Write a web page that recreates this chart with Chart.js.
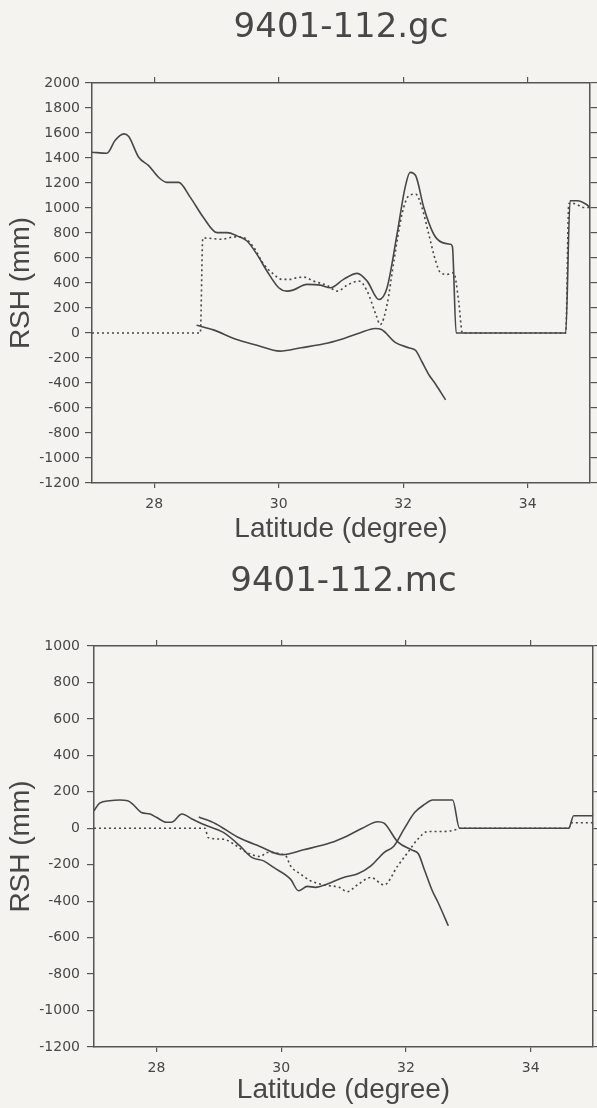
<!DOCTYPE html>
<html>
<head>
<meta charset="utf-8">
<script src="https://cdn.jsdelivr.net/npm/chart.js@4.4.1/dist/chart.umd.min.js"></script>
<style>
html, body { margin: 0; padding: 0; background: #f4f3ef; }
#wrap { position: relative; width: 597px; height: 1108px; overflow: hidden; }
.box { position: absolute; left: 0; width: 597px; }
#b1 { top: 0; height: 546px; }
#b2 { top: 546px; height: 562px; }
</style>
</head>
<body>
<div id="wrap">
  <div class="box" id="b1"><canvas id="c1" width="597" height="546"></canvas></div>
  <div class="box" id="b2"><canvas id="c2" width="597" height="562"></canvas></div>
</div>
<script>
// ---- tick labels ----
const latTicks = [28, 30, 32, 34];
const gcRshTicks = [-1200, -1000, -800, -600, -400, -200, 0, 200, 400, 600, 800, 1000, 1200, 1400, 1600, 1800, 2000];
const mcRshTicks = [-1200, -1000, -800, -600, -400, -200, 0, 200, 400, 600, 800, 1000];

// ---- 9401-112.gc : solid curve ----
const gcSolidLat = [27.0, 27.24, 27.37, 27.51, 27.59, 27.75, 27.91, 28.07, 28.2, 28.39, 28.58, 28.79, 29.01, 29.17, 29.33, 29.49, 29.65, 29.81, 30.0, 30.13, 30.24, 30.45, 30.67, 30.83, 31.04, 31.26, 31.42, 31.61, 31.74, 31.9, 32.03, 32.11, 32.2, 32.33, 32.49, 32.63, 32.76, 32.79, 32.85, 34.61, 34.68, 34.8, 34.95, 35.0];
const gcSolidRsh = [1446, 1438, 1540, 1593, 1572, 1406, 1339, 1245, 1205, 1205, 1085, 924, 803, 803, 777, 736, 629, 496, 362, 335, 345, 389, 383, 362, 429, 477, 415, 268, 362, 790, 1165, 1285, 1258, 1004, 790, 723, 710, 690, 0, 0, 1058, 1058, 1026, 1004];

// ---- 9401-112.gc : dotted curve ----
const gcDottedLat = [27.0, 28.74, 28.78, 28.87, 29.09, 29.28, 29.44, 29.6, 29.76, 29.92, 30.05, 30.19, 30.24, 30.4, 30.56, 30.78, 30.94, 31.1, 31.29, 31.42, 31.56, 31.63, 31.74, 31.85, 31.98, 32.09, 32.2, 32.3, 32.41, 32.52, 32.6, 32.71, 32.81, 32.89, 32.95, 34.61, 34.66, 34.74, 34.9, 35.0];
const gcDottedRsh = [0, 0, 760, 758, 750, 769, 763, 683, 549, 469, 429, 429, 437, 447, 415, 380, 335, 383, 415, 335, 148, 67, 228, 576, 951, 1098, 1111, 1004, 790, 576, 482, 469, 482, 255, 0, 0, 1036, 1036, 1004, 1004];

// ---- difference curve (shown in both panels) ----
const diffLat = [28.68, 28.95, 29.3, 29.65, 30.02, 30.36, 30.79, 31.06, 31.3, 31.55, 31.65, 31.87, 32.1, 32.2, 32.3, 32.42, 32.52, 32.68];
const diffRsh = [62, 25, -48, -98, -145, -118, -80, -42, 0, 36, 28, -75, -120, -140, -230, -340, -410, -535];

// ---- 9401-112.mc : solid curve ----
const mcSolidLat = [27.0, 27.09, 27.25, 27.41, 27.54, 27.62, 27.76, 27.9, 28.0, 28.16, 28.24, 28.41, 28.57, 28.75, 29.08, 29.34, 29.53, 29.72, 29.88, 30.15, 30.28, 30.42, 30.55, 30.74, 31.0, 31.22, 31.44, 31.65, 31.81, 31.97, 32.14, 32.3, 32.43, 32.75, 32.86, 34.61, 34.69, 35.0];
const mcSolidRsh = [96, 138, 151, 155, 151, 133, 87, 78, 60, 33, 33, 78, 51, 22, -24, -97, -160, -179, -215, -279, -343, -319, -324, -306, -270, -251, -206, -133, -97, -5, 86, 131, 155, 155, 0, 0, 69, 69];

// ---- 9401-112.mc : dotted curve ----
const mcDottedLat = [27.0, 28.78, 28.83, 29.08, 29.24, 29.45, 29.67, 29.77, 30.07, 30.15, 30.31, 30.47, 30.69, 30.93, 31.06, 31.22, 31.44, 31.65, 31.87, 32.03, 32.19, 32.35, 32.57, 32.83, 32.86, 34.61, 34.66, 35.0];
const mcDottedRsh = [0, 0, -51, -60, -87, -133, -155, -133, -150, -206, -251, -288, -311, -324, -348, -311, -270, -311, -206, -133, -60, -18, -18, -5, 0, 0, 30, 30];

const ink = '#474747';
const axisColor = '#555555';

function pts(lats, vals) { return lats.map((v, i) => ({ x: v, y: vals[i] })); }
function solid(lats, vals) {
  return { data: pts(lats, vals), borderColor: ink, borderWidth: 1.6, pointRadius: 0, fill: false, cubicInterpolationMode: 'monotone' };
}
function dotted(lats, vals) {
  return { data: pts(lats, vals), borderColor: ink, borderWidth: 1.6, borderDash: [2, 3], pointRadius: 0, fill: false, cubicInterpolationMode: 'monotone' };
}
function setTicks(arr) { return s => { s.ticks = arr.map(v => ({ value: v })); }; }
const plain = v => String(v);

function buildChart(id, cfg) {
  const border = { display: true, color: axisColor, width: 1.5 };
  return new Chart(document.getElementById(id), {
    type: 'line',
    data: { datasets: cfg.datasets },
    options: {
      responsive: false,
      animation: false,
      events: [],
      layout: { padding: 0 },
      plugins: {
        legend: { display: false },
        tooltip: { enabled: false },
        title: {
          display: true, text: cfg.title, fullSize: false, color: ink,
          font: { family: 'DejaVu Sans', size: 34, weight: 'normal' },
          padding: { top: cfg.titleTop, bottom: 0 }
        }
      },
      scales: {
        x: {
          type: 'linear', position: 'bottom', min: 27, max: 35,
          afterBuildTicks: setTicks(latTicks),
          afterFit: s => { s.height = cfg.xH; },
          ticks: { font: { family: 'DejaVu Sans', size: 14 }, color: ink, padding: 8, maxRotation: 0, autoSkip: false, callback: plain },
          grid: { drawOnChartArea: false, drawTicks: true, tickLength: 5, color: axisColor, lineWidth: 1.2 },
          border: border,
          title: { display: true, text: 'Latitude (degree)', color: ink, font: { family: 'Liberation Sans', size: 28 }, padding: { top: 0, bottom: cfg.xTitlePad } }
        },
        x2: {
          type: 'linear', position: 'top', min: 27, max: 35,
          afterBuildTicks: setTicks(latTicks),
          afterFit: s => { s.height = cfg.x2H; },
          ticks: { display: false },
          grid: { drawOnChartArea: false, drawTicks: true, tickLength: 6, color: axisColor, lineWidth: 1.2 },
          border: border
        },
        y: {
          type: 'linear', position: 'left', min: cfg.yMin, max: cfg.yMax,
          afterBuildTicks: setTicks(cfg.yTicks),
          afterFit: s => { s.width = cfg.left; },
          ticks: { font: { family: 'DejaVu Sans', size: 14 }, color: ink, padding: cfg.yTickPad, autoSkip: false, callback: plain },
          grid: { drawOnChartArea: false, drawTicks: true, tickLength: 7, color: axisColor, lineWidth: 1.2 },
          border: border,
          title: { display: true, text: 'RSH (mm)', color: ink, font: { family: 'Liberation Sans', size: 28 }, padding: { top: 4, bottom: 0 } }
        },
        y2: {
          type: 'linear', position: 'right', min: cfg.yMin, max: cfg.yMax,
          afterBuildTicks: setTicks(cfg.yTicks),
          afterFit: s => { s.width = 597 - cfg.right; },
          ticks: { display: false },
          grid: { drawOnChartArea: false, drawTicks: true, tickLength: 7, color: axisColor, lineWidth: 1.2 },
          border: border
        }
      }
    }
  });
}

buildChart('c1', {
  title: '9401-112.gc',
  titleTop: 7.6, x2H: 34.6, xH: 63, xTitlePad: 0,
  left: 92, right: 590, yTickPad: 5,
  yMin: -1200, yMax: 2000, yTicks: gcRshTicks,
  datasets: [
    solid(gcSolidLat, gcSolidRsh),
    dotted(gcDottedLat, gcDottedRsh),
    solid(diffLat, diffRsh)
  ]
});

buildChart('c2', {
  title: '9401-112.mc',
  titleTop: 15.6, x2H: 43.6, xH: 61, xTitlePad: 1.2,
  left: 94, right: 593, yTickPad: 7,
  yMin: -1200, yMax: 1000, yTicks: mcRshTicks,
  datasets: [
    solid(mcSolidLat, mcSolidRsh),
    dotted(mcDottedLat, mcDottedRsh),
    solid(diffLat, diffRsh)
  ]
});
</script>
</body>
</html>
